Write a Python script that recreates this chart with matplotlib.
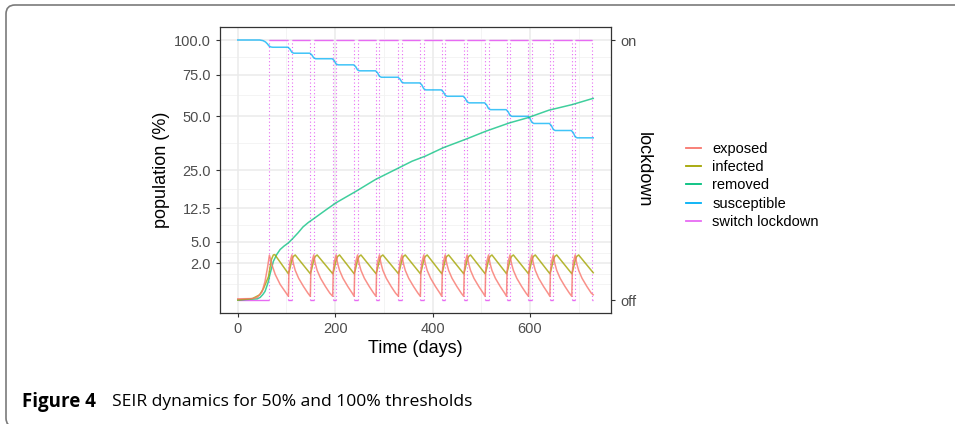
import numpy as np
import matplotlib
matplotlib.use("Agg")
import matplotlib.pyplot as plt
from matplotlib.lines import Line2D
from matplotlib.patches import FancyBboxPatch
from matplotlib.transforms import IdentityTransform

plt.rcParams['font.family'] = ['Liberation Sans', 'DejaVu Sans']

# lockdown switches (days): initial off until first_on, then short off periods
first_on = 65
off_start = [104, 149, 195, 239, 284, 330, 375, 419, 464, 508, 552, 597, 641, 686, 727]
off_end = [111, 156, 202, 246, 291, 337, 382, 426, 471, 515, 559, 604, 648, 693, 730]

exposed_t = [0, 30, 40, 50, 56, 61, 65, 70, 77, 87, 97,
             104, 105, 107, 111, 114, 118, 125, 135, 144,
             149, 150, 152, 156, 159, 163, 170, 180, 189,
             195, 196, 198, 202, 205, 209, 216, 226, 235,
             239, 240, 242, 246, 249, 253, 260, 270, 279,
             284, 285, 287, 291, 294, 298, 305, 315, 324,
             330, 331, 333, 337, 340, 344, 351, 361, 370,
             375, 376, 378, 382, 385, 389, 396, 406, 415,
             419, 420, 422, 426, 429, 433, 440, 450, 459,
             464, 465, 467, 471, 474, 478, 485, 495, 504,
             508, 509, 511, 515, 518, 522, 529, 539, 548,
             552, 553, 555, 559, 562, 566, 573, 583, 592,
             597, 598, 600, 604, 607, 611, 618, 628, 637,
             641, 642, 644, 648, 651, 655, 662, 672, 681,
             686, 687, 689, 693, 696, 700, 707, 717, 726,
             730]
exposed_v = [0.002, 0.003, 0.01, 0.1, 0.52, 1.53, 2.97, 1.86, 0.96, 0.36, 0.11] + \
    [0.02, 1.1, 2.1, 3.0, 2.0, 1.3, 0.7, 0.27, 0.07] * 14 + [0.04]

infected_t = [0, 30, 45, 53, 58, 63, 66, 69, 73, 76,
              104, 107, 111, 114, 118,
              149, 152, 156, 159, 163,
              195, 198, 202, 205, 209,
              239, 242, 246, 249, 253,
              284, 287, 291, 294, 298,
              330, 333, 337, 340, 344,
              375, 378, 382, 385, 389,
              419, 422, 426, 429, 433,
              464, 467, 471, 474, 478,
              508, 511, 515, 518, 522,
              552, 555, 559, 562, 566,
              597, 600, 604, 607, 611,
              641, 644, 648, 651, 655,
              686, 689, 693, 696, 700,
              730]
infected_v = [0.0, 0.003, 0.04, 0.2, 0.45, 0.8, 1.5, 2.4, 3.0, 3.05] + \
    [1.02, 1.45, 2.35, 2.8, 3.0] * 14 + [1.1]

removed_t = [0, 40, 46, 52, 56, 60, 63, 66, 70, 73, 80, 87, 95, 104, 114, 124,
             134, 145, 155, 182, 202, 243, 283, 324, 358, 385, 422, 470, 510, 558,
             595, 639, 687, 727, 730]
removed_v = [0, 0.002, 0.01, 0.05, 0.11, 0.3, 0.52, 0.96, 1.6, 2.2, 3.06, 3.77,
             4.3, 4.83, 5.7, 6.7, 7.9, 8.9, 9.7, 12.1, 14.0, 17.5, 21.5, 25.2, 28.5,
             30.6, 34.3, 38.4, 42.2, 46.4, 49.1, 53.3, 56.5, 59.9, 60.1]

susceptible_t = [0, 45, 52, 57, 61, 64, 68, 72,
                 103, 107, 111, 115, 148, 152, 156, 160,
                 194, 198, 202, 206, 238, 242, 246, 250,
                 283, 287, 291, 295, 329, 333, 337, 341,
                 374, 378, 382, 386, 418, 422, 426, 430,
                 463, 467, 471, 475, 507, 511, 515, 519,
                 551, 555, 559, 563, 596, 600, 604, 608,
                 640, 644, 648, 652, 685, 689, 693, 697, 730]
susceptible_v = [100, 100, 99.5, 98.5, 97, 95.5, 94.7, 94.5,
                 94.5, 93.2, 90.8, 90.1, 90.1, 88.9, 86.7, 86.1,
                 86.1, 84.8, 82.4, 81.8, 81.8, 80.6, 78.3, 77.7,
                 77.7, 76.4, 74.0, 73.4, 73.4, 72.3, 70.2, 69.7,
                 69.7, 68.4, 66.0, 65.3, 65.3, 64.1, 62.0, 61.4,
                 61.4, 60.2, 58.1, 57.5, 57.5, 56.3, 54.2, 53.6,
                 53.6, 52.5, 50.5, 49.9, 49.9, 48.8, 46.7, 46.1,
                 46.1, 45.0, 43.0, 42.5, 42.5, 41.4, 39.4, 38.9, 38.9]

y_breaks = [2, 5, 12.5, 25, 50, 75, 100]
y_labels = ['2.0', '5.0', '12.5', '25.0', '50.0', '75.0', '100.0']
x_breaks = [0, 200, 400, 600]

cols = {'exposed': '#F8766D', 'infected': '#A3A500', 'removed': '#00BF7D',
        'susceptible': '#00B0F6', 'switch lockdown': '#E76BF3'}


def fwd(v):
    v = np.asarray(v, dtype=float)
    return np.sign(v) * np.sqrt(np.abs(v))


def inv(v):
    v = np.asarray(v, dtype=float)
    return np.sign(v) * v ** 2


fig = plt.figure(figsize=(9.55, 4.24), dpi=100)
ax = fig.add_axes([220 / 955, 1 - 313 / 424, 391 / 955, 286 / 424])
ax.set_yscale('function', functions=(fwd, inv))
ax.set_xlim(-36.5, 766.5)
ax.set_ylim(-0.25, 110.25)

# grid (ggplot theme_bw look)
sq = np.sqrt(y_breaks)
y_minor = list(((sq[:-1] + sq[1:]) / 2) ** 2) + [1.02, 0.36]
for y in y_minor:
    ax.axhline(y, color='#F2F2F2', lw=0.6, zorder=0)
for y in y_breaks:
    ax.axhline(y, color='#EBEBEB', lw=1.1, zorder=0)
for x in [100, 300, 500, 700]:
    ax.axvline(x, color='#F2F2F2', lw=0.6, zorder=0)
for x in x_breaks:
    ax.axvline(x, color='#EBEBEB', lw=1.1, zorder=0)

pink = cols['switch lockdown']
on_from = [first_on] + off_end[:-1]
off_from = [0] + off_start
off_to = [first_on] + off_end
switches = [first_on] + off_start + off_end[:-1]
ax.hlines([100] * len(on_from), on_from, off_start, color=pink, lw=1.0, zorder=2)
ax.hlines([0] * len(off_from), off_from, off_to, color=pink, lw=1.0, zorder=2)
ax.vlines(switches, [0] * len(switches), [100] * len(switches), color=pink, lw=0.8,
          linestyles=[(0, (1, 2.2))], zorder=2)

lw = 1.1
ax.plot(susceptible_t, susceptible_v, color=cols['susceptible'], lw=lw, alpha=0.75, zorder=3)
ax.plot(removed_t, removed_v, color=cols['removed'], lw=lw, alpha=0.75, zorder=3)
ax.plot(infected_t, infected_v, color=cols['infected'], lw=lw, alpha=0.8, zorder=3)
ax.plot(exposed_t, exposed_v, color=cols['exposed'], lw=lw, alpha=0.8, zorder=4)

ax.set_yticks(y_breaks, y_labels)
ax.set_xticks(x_breaks)
ax.minorticks_off()
ax.tick_params(colors='#333333', labelcolor='#4D4D4D', labelsize=10.5, length=3, width=0.8)
for s in ax.spines.values():
    s.set_color('#333333')
    s.set_linewidth(0.9)
ax.set_xlabel('Time (days)', fontsize=13, labelpad=3)
ax.set_ylabel('population (%)', fontsize=13, labelpad=3)

ax2 = ax.twinx()
ax2.set_yscale('function', functions=(fwd, inv))
ax2.set_ylim(ax.get_ylim())
ax2.set_yticks([0, 100], ['off', 'on'])
ax2.minorticks_off()
ax2.tick_params(colors='#333333', labelcolor='#4D4D4D', labelsize=10.5, length=3, width=0.8)
ax2.set_ylabel('lockdown', fontsize=13, rotation=-90, labelpad=11)
for s in ax2.spines.values():
    s.set_visible(False)

handles = [Line2D([], [], color=c, lw=1.3) for c in cols.values()]
fig.legend(handles, list(cols.keys()), loc='upper left',
           bbox_to_anchor=(686 / 955, 1 - 142 / 424), frameon=False,
           fontsize=10.5, handlelength=1.05, handletextpad=0.75,
           labelspacing=0.29, borderpad=0, borderaxespad=0)

fig.text(22 / 955, 1 - 402 / 424, 'Figure 4', fontfamily='Open Sans',
         fontweight='bold', fontsize=13.5, va='center')
fig.text(112 / 955, 1 - 402 / 424, 'SEIR dynamics for 50% and 100% thresholds',
         fontfamily='Open Sans', fontsize=12.6, va='center')

frame = FancyBboxPatch((6, -3), 1000, 422, boxstyle='round,pad=0,rounding_size=9',
                       transform=IdentityTransform(), fill=False,
                       edgecolor='#7A7A7A', lw=1.2)
fig.add_artist(frame)

fig.savefig('out.png', dpi=100)
